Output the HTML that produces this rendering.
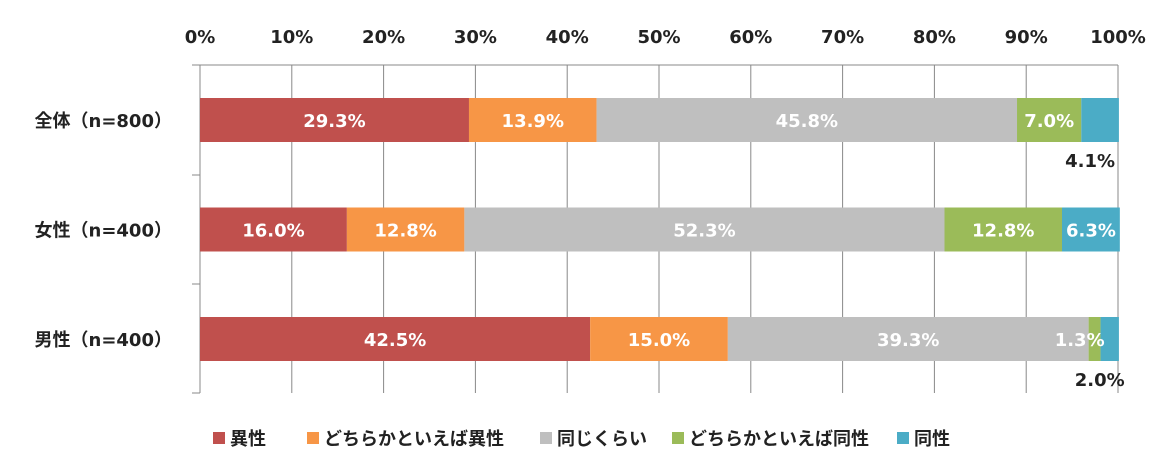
<!DOCTYPE html>
<html><head><meta charset="utf-8"><style>
body{margin:0;background:#fff;}
svg text{font-family:"DejaVu Sans","Noto Sans CJK JP",sans-serif;font-weight:bold;}
svg text.leg{font-family:"Liberation Sans","Noto Sans CJK JP",sans-serif;}
</style></head><body>
<svg width="1167" height="468">
<g id="grid"></g><g id="bars"></g><g id="labels"></g><g id="legend"></g>
</svg>
<script>
const categories=["全体（n=800）","女性（n=400）","男性（n=400）"];
const seriesNames=["異性","どちらかといえば異性","同じくらい","どちらかといえば同性","同性"];
const s1=[29.3,16.0,42.5];
const s2=[13.9,12.8,15.0];
const s3=[45.8,52.3,39.3];
const s4=[7.0,12.8,1.3];
const s5=[4.1,6.3,2.0];
const ticks=[0,10,20,30,40,50,60,70,80,90,100];
const colors=["#c0504d","#f79646","#bfbfbf","#9bbb59","#4bacc6"];
const series=[s1,s2,s3,s4,s5];
const NS="http://www.w3.org/2000/svg";
const x=v=>200+v*9.18;
const rowY=i=>98+i*109.5;
const BH=44;
function mk(t,a,p){const e=document.createElementNS(NS,t);for(const k in a)e.setAttribute(k,a[k]);p.appendChild(e);return e;}
const grid=document.getElementById('grid'),bars=document.getElementById('bars'),labels=document.getElementById('labels'),legend=document.getElementById('legend');
const hl=mk('line',{x1:192,y1:65,x2:1118,y2:65,stroke:'#888','stroke-width':1},grid);


ticks.forEach(t=>{
 const l=mk('line',{x1:x(t),y1:65,x2:x(t),y2:393,stroke:'#888','stroke-width':1},grid);
 
 
 const tx=mk('text',{x:x(t),y:43,'text-anchor':'middle','font-size':18,fill:'#222'},grid);
 tx.textContent=t+'%';
 
 
});
[65,175,284,393].forEach(y=>{mk('line',{x1:192,y1:y,x2:200,y2:y,stroke:'#888'},grid);});
categories.forEach((c,i)=>{
 const y=rowY(i);
 const t=mk('text',{x:172,y:y+BH/2+7,'text-anchor':'end','font-size':18,fill:'#222'},labels);
 t.textContent=c;
 
 
 let acc=0;
 series.forEach((s,j)=>{
  const v=s[i];
  const r=mk('rect',{x:x(acc),y:y,width:x(acc+v)-x(acc),height:BH,fill:colors[j]},bars);
  
  
  const lb=mk('text',{'font-size':18},labels);
  lb.textContent=v.toFixed(1)+'%';
  
  
  if(v<3 && j==3){lb.setAttribute('x',x(acc)+16);lb.setAttribute('y',y+BH/2+7);lb.setAttribute('text-anchor','end');lb.setAttribute('fill','#fff');}
  else if(v<5){lb.setAttribute('x',x(acc+v/2)-10);lb.setAttribute('y',y+BH+25);lb.setAttribute('text-anchor','middle');lb.setAttribute('fill','#222');}
  else{lb.setAttribute('x',x(acc+v/2));lb.setAttribute('y',y+BH/2+7);lb.setAttribute('text-anchor','middle');lb.setAttribute('fill','#fff');}
  acc+=v;
 });
});
const legX=[213,307,540,672,897];
seriesNames.forEach((n,j)=>{
 const g=mk('g',{},legend);
 
 
 mk('rect',{x:legX[j],y:432,width:12,height:12,fill:colors[j]},g);
 const t=mk('text',{x:legX[j]+17,y:445,'font-size':18,fill:'#222','class':'leg'},g);
 t.textContent=n;
});
</script>
</body></html>
